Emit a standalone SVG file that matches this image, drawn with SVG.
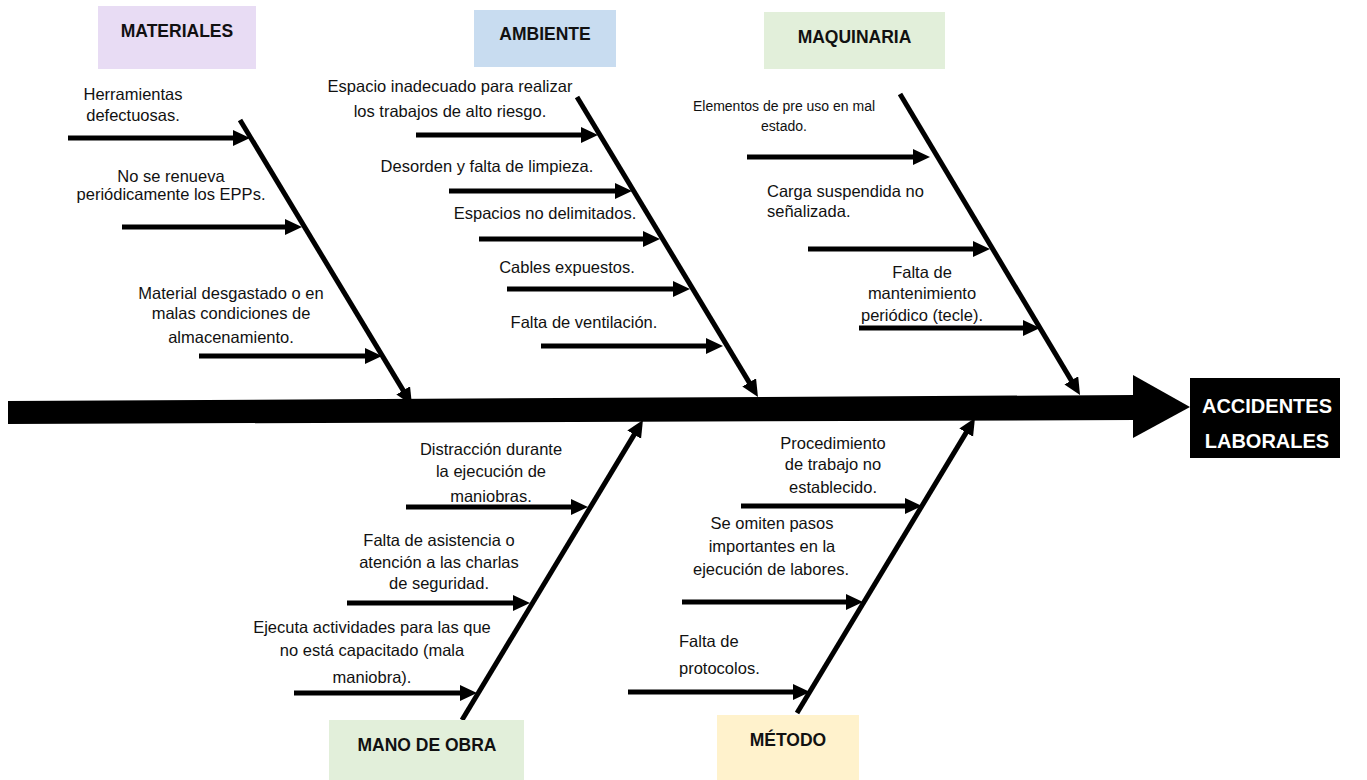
<svg xmlns="http://www.w3.org/2000/svg" width="1367" height="780" viewBox="0 0 1367 780">
<style>
.t{font-family:"Liberation Sans",Arial,sans-serif;font-size:16.5px;fill:#111}
.m{text-anchor:middle}
.h{font-family:"Liberation Sans",Arial,sans-serif;font-size:17.5px;font-weight:bold;fill:#111;text-anchor:middle}
.w{font-family:"Liberation Sans",Arial,sans-serif;font-size:20px;font-weight:bold;fill:#fff;text-anchor:middle}
.l{stroke:#000;stroke-width:5;fill:none;marker-end:url(#ah)}
</style>
<defs>
<marker id="ah" markerUnits="userSpaceOnUse" markerWidth="18" markerHeight="18" refX="7" refY="8" orient="auto">
<path d="M0,0 L17,8 L0,16 z" fill="#000"/>
</marker>
</defs>
<g id="connectors">
<polygon points="8,401 1135,395 1135,420 8,424" fill="#000"/>
<polygon points="1133,375 1190,407 1133,438" fill="#000"/>
<line class="l" x1="240" y1="120" x2="406.8" y2="396.4"/>
<line class="l" x1="577" y1="97" x2="752.8" y2="388.4"/>
<line class="l" x1="900" y1="94" x2="1074.9" y2="386.4"/>
<line class="l" x1="462" y1="720" x2="637.8" y2="428.6"/>
<line class="l" x1="797" y1="713" x2="969.8" y2="426.6"/>
<line class="l" x1="68" y1="138" x2="240" y2="138"/>
<line class="l" x1="122" y1="227" x2="292" y2="227"/>
<line class="l" x1="199" y1="356" x2="372" y2="356"/>
<line class="l" x1="416" y1="135" x2="588" y2="135"/>
<line class="l" x1="449" y1="191" x2="622" y2="191"/>
<line class="l" x1="479" y1="239" x2="650" y2="239"/>
<line class="l" x1="507" y1="289" x2="680" y2="289"/>
<line class="l" x1="541" y1="346" x2="713" y2="346"/>
<line class="l" x1="747" y1="157" x2="920" y2="157"/>
<line class="l" x1="808" y1="249" x2="980" y2="249"/>
<line class="l" x1="859" y1="328" x2="1030" y2="328"/>
<line class="l" x1="406" y1="507" x2="578" y2="507"/>
<line class="l" x1="347" y1="603" x2="520" y2="603"/>
<line class="l" x1="294" y1="693" x2="467" y2="693"/>
<line class="l" x1="741" y1="506" x2="912" y2="506"/>
<line class="l" x1="682" y1="602" x2="853" y2="602"/>
<line class="l" x1="628" y1="692" x2="800" y2="692"/>
</g>
<g id="materiales">
<rect x="98" y="6" width="158" height="63" fill="#E8DCF4"/>
<text class="h" x="177" y="37">MATERIALES</text>
</g>
<g id="ambiente">
<rect x="474" y="10" width="142" height="57" fill="#C8DCF0"/>
<text class="h" x="545" y="40">AMBIENTE</text>
</g>
<g id="maquinaria">
<rect x="764" y="12" width="181" height="57" fill="#E2EFDA"/>
<text class="h" x="854.5" y="43">MAQUINARIA</text>
</g>
<g id="mano-de-obra">
<rect x="329" y="720" width="195" height="60" fill="#E2EFDA"/>
<text class="h" x="427" y="751">MANO DE OBRA</text>
</g>
<g id="metodo">
<rect x="717" y="715" width="142" height="65" fill="#FFF2CC"/>
<text class="h" x="788" y="746">MÉTODO</text>
</g>
<g id="accidentes">
<rect x="1190" y="378" width="150" height="80" fill="#000"/>
<text class="w" x="1267" y="413">ACCIDENTES</text>
<text class="w" x="1267" y="448">LABORALES</text>
</g>
<g id="causas-materiales">
<text class="t m" x="133" y="100">Herramientas</text>
<text class="t m" x="133" y="121">defectuosas.</text>
<text class="t m" x="171" y="182">No se renueva</text>
<text class="t m" x="171" y="200">periódicamente los EPPs.</text>
<text class="t m" x="231" y="299">Material desgastado o en</text>
<text class="t m" x="231" y="319">malas condiciones de</text>
<text class="t m" x="231" y="343">almacenamiento.</text>
</g>
<g id="causas-ambiente">
<text class="t m" x="450" y="92">Espacio inadecuado para realizar</text>
<text class="t m" x="450" y="117">los trabajos de alto riesgo.</text>
<text class="t m" x="487" y="172">Desorden y falta de limpieza.</text>
<text class="t m" x="545" y="219">Espacios no delimitados.</text>
<text class="t m" x="567" y="273">Cables expuestos.</text>
<text class="t m" x="584" y="328">Falta de ventilación.</text>
</g>
<g id="causas-maquinaria">
<text class="t m" x="784" y="111" style="font-size:14px">Elementos de pre uso en mal</text>
<text class="t m" x="784" y="131" style="font-size:14px">estado.</text>
<text class="t" x="767" y="197">Carga suspendida no</text>
<text class="t" x="767" y="217">señalizada.</text>
<text class="t m" x="922" y="278">Falta de</text>
<text class="t m" x="922" y="299">mantenimiento</text>
<text class="t m" x="922" y="321">periódico (tecle).</text>
</g>
<g id="causas-mano-de-obra">
<text class="t m" x="491" y="455">Distracción durante</text>
<text class="t m" x="491" y="477">la ejecución de</text>
<text class="t m" x="491" y="502">maniobras.</text>
<text class="t m" x="439" y="546">Falta de asistencia o</text>
<text class="t m" x="439" y="568">atención a las charlas</text>
<text class="t m" x="439" y="589">de seguridad.</text>
<text class="t m" x="372" y="633">Ejecuta actividades para las que</text>
<text class="t m" x="372" y="656">no está capacitado (mala</text>
<text class="t m" x="372" y="683">maniobra).</text>
</g>
<g id="causas-metodo">
<text class="t m" x="833" y="449">Procedimiento</text>
<text class="t m" x="833" y="470">de trabajo no</text>
<text class="t m" x="833" y="493">establecido.</text>
<text class="t m" x="772" y="529">Se omiten pasos</text>
<text class="t m" x="772" y="552">importantes en la</text>
<text class="t m" x="771" y="575">ejecución de labores.</text>
<text class="t" x="679" y="647">Falta de</text>
<text class="t" x="679" y="674">protocolos.</text>
</g>
</svg>
